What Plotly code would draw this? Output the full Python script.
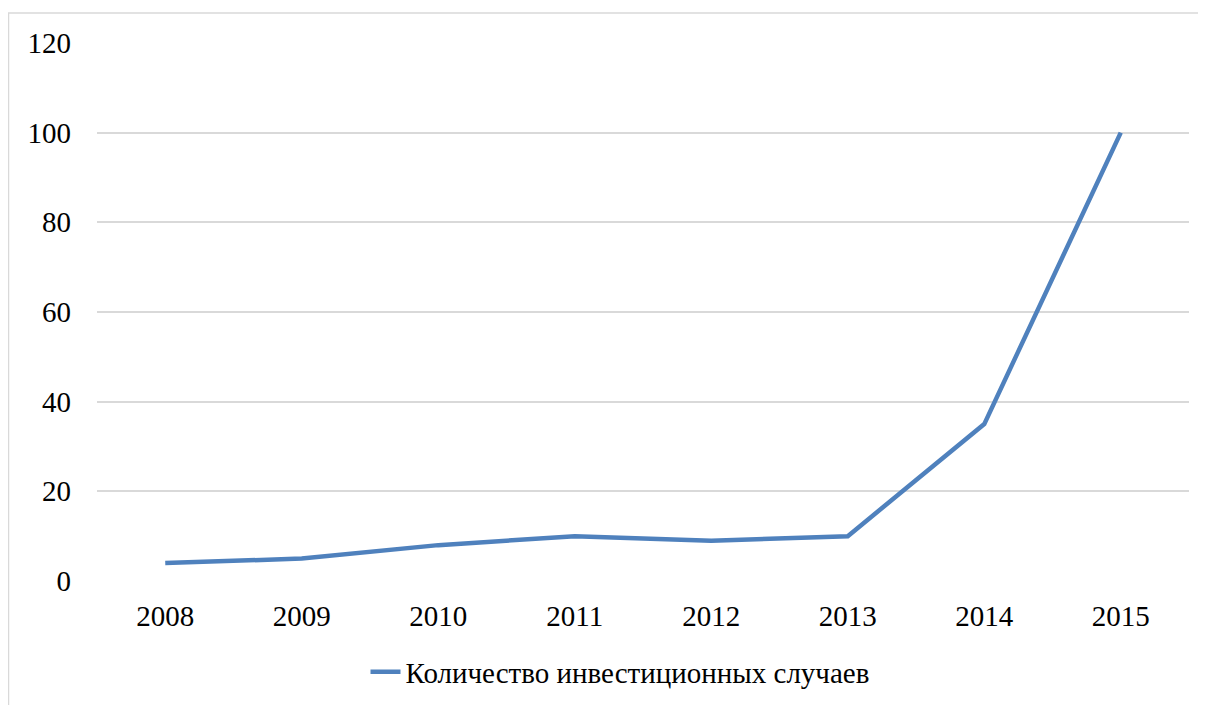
import plotly.graph_objects as go

years = ["2008", "2009", "2010", "2011", "2012", "2013", "2014", "2015"]
cases = [4, 5, 8, 10, 9, 10, 35, 100]
series_name = "Количество инвестиционных случаев"
y_ticks = [0, 20, 40, 60, 80, 100, 120]

# page body has an 8px margin, so figure coordinates are offset by (8, 8)
OFF = 8
W, H = 1206, 705
L, R, T, B = 97 - OFF, 25, 43 - OFF, 132
pw, ph = W - L - R, H - T - B
bottom = 581 - OFF

fig = go.Figure()
fig.add_trace(go.Scatter(
    x=years, y=cases, mode="lines", name=series_name,
    line=dict(color="#4F81BD", width=4.5),
))

font = dict(family="Liberation Serif", size=29, color="#000000")

fig.update_layout(
    width=W, height=H,
    margin=dict(l=L, r=R, t=T, b=B),
    paper_bgcolor="white", plot_bgcolor="white",
    font=font,
    showlegend=True,
    legend=dict(orientation="h", x=(620 - 97) / pw, xanchor="center",
                y=(bottom - (672 - OFF)) / ph, yanchor="middle",
                font=font, bgcolor="rgba(0,0,0,0)"),
    xaxis=dict(type="category", range=[-0.5, 7.5], showgrid=False, showline=False,
               zeroline=False, ticks="", tickfont=font, ticklabelstandoff=15),
    yaxis=dict(range=[0, 120], tickvals=y_ticks, showgrid=True, gridcolor="#D9D9D9",
               gridwidth=1.5, zeroline=False, showline=False, ticks="", tickfont=font,
               ticklabelstandoff=25),
    shapes=[dict(type="rect", xref="paper", yref="paper",
                 x0=(8.5 - 97) / pw, x1=(1230 - 97) / pw,
                 y0=(581 - 740) / ph, y1=1 + (43 - 13) / ph,
                 line=dict(color="#D9D9D9", width=1.5), fillcolor="rgba(0,0,0,0)", layer="below")],
)

fig.write_html("out.html")
